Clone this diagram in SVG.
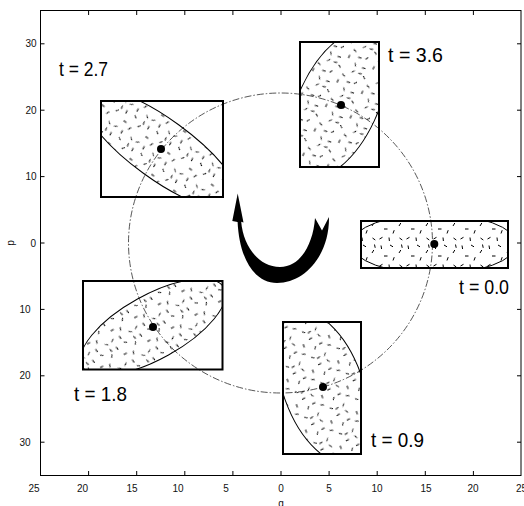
<svg xmlns="http://www.w3.org/2000/svg" width="524" height="506" viewBox="0 0 524 506">
<style>
  .frame{fill:none;stroke:#000;stroke-width:1}
  .tick{stroke:#000;stroke-width:1}
  .tl{font-family:"Liberation Sans",Arial,sans-serif;font-size:10px;fill:#111}
  .lab{font-family:"Liberation Sans",Arial,sans-serif;font-size:21px;fill:#000}
  .box{fill:none;stroke:#000;stroke-width:2}
  .ell{fill:url(#tex);stroke:#000;stroke-width:1}
  .dot{fill:#000}
  .traj{fill:none;stroke:#444;stroke-width:0.9;stroke-dasharray:7 2 1.5 2}
</style>
<defs>
  <pattern id="tex" width="27" height="27" patternUnits="userSpaceOnUse">
    <g stroke="#000" stroke-width="1">
      <line x1="3" y1="2.5" x2="3.6" y2="6"/>
      <line x1="12" y1="2" x2="15" y2="3.8"/>
      <line x1="21" y1="10" x2="22.8" y2="7"/>
      <line x1="6" y1="13" x2="9.5" y2="13"/>
      <line x1="15" y1="17.5" x2="16.2" y2="14.2"/>
      <line x1="1.5" y1="23" x2="4.5" y2="21.3"/>
      <line x1="11" y1="21.5" x2="11.4" y2="25"/>
      <line x1="21.5" y1="22" x2="24.3" y2="24"/>
      <line x1="23.5" y1="1.5" x2="24.2" y2="4.8"/>
    </g>
  </pattern>
  <clipPath id="c0"><rect x="361" y="221" width="147" height="47"/></clipPath>
  <clipPath id="c09"><rect x="283" y="322" width="78" height="132"/></clipPath>
  <clipPath id="c18"><rect x="83" y="281" width="139.5" height="88.5"/></clipPath>
  <clipPath id="c27"><rect x="101" y="101" width="122" height="96"/></clipPath>
  <clipPath id="c36"><rect x="300" y="42" width="79" height="125"/></clipPath>
</defs>

<g id="axes">
  <rect class="frame" x="40.5" y="10.5" width="480.5" height="465"/>
  <g class="tick">
    <path d="M88.6 475v-4M136.7 475v-4M184.8 475v-4M232.9 475v-4M281 475v-4M329.1 475v-4M377.2 475v-4M425.3 475v-4M473.4 475v-4"/>
    <path d="M88.6 11v4M136.7 11v4M184.8 11v4M232.9 11v4M281 11v4M329.1 11v4M377.2 11v4M425.3 11v4M473.4 11v4"/>
    <path d="M40.5 43.8h4M40.5 110.2h4M40.5 176.6h4M40.5 243h4M40.5 309.4h4M40.5 375.8h4M40.5 442.2h4"/>
    <path d="M521 43.8h-4M521 110.2h-4M521 176.6h-4M521 243h-4M521 309.4h-4M521 375.8h-4M521 442.2h-4"/>
  </g>
  <g class="tl" text-anchor="end">
    <text x="36.5" y="47.3">30</text>
    <text x="36.5" y="113.7">20</text>
    <text x="36.5" y="180.1">10</text>
    <text x="36" y="246.5">0</text>
    <text x="30.5" y="312.9">10</text>
    <text x="30.5" y="379.3">20</text>
    <text x="30.5" y="445.7">30</text>
  </g>
  <g class="tl" text-anchor="middle">
    <text x="34" y="492">25</text>
    <text x="82.5" y="492">20</text>
    <text x="132" y="492">15</text>
    <text x="178" y="492">10</text>
    <text x="226" y="492">5</text>
    <text x="281" y="492">0</text>
    <text x="329" y="492">5</text>
    <text x="377" y="492">10</text>
    <text x="426" y="492">15</text>
    <text x="473" y="492">20</text>
    <text x="521.5" y="492">25</text>
    <text x="281" y="506.5">q</text>
    <text x="0" y="0" transform="translate(13.5 243) rotate(-90)">p</text>
  </g>
</g>

<g id="connectors">
  <ellipse class="traj" cx="280.5" cy="243" rx="152" ry="150"/>
  <path id="rotation-arrow" fill="#000" d="M237.7 193.5 L243.5 222.5 L241.2 221.8 C243 245 258 267 280 267 C300 267 313 245 315 218 L322 230.5 L329 217 C329.5 255 305 283 277 283 C255 283 239.5 260 237.6 222 L232.3 221 Z"/>
</g>

<g id="t00">
  <g clip-path="url(#c0)"><ellipse class="ell" cx="434" cy="244" rx="82.5" ry="30"/></g>
  <rect class="box" x="361" y="221" width="147" height="47"/>
  <circle class="dot" cx="434.3" cy="244" r="4"/>
  <text class="lab" x="459" y="294" textLength="50" lengthAdjust="spacingAndGlyphs">t = 0.0</text>
</g>

<g id="t09">
  <g clip-path="url(#c09)"><ellipse class="ell" cx="323" cy="387" rx="79" ry="40" transform="rotate(70 323 387)"/></g>
  <rect class="box" x="283" y="322" width="78" height="132"/>
  <circle class="dot" cx="323" cy="387" r="4"/>
  <text class="lab" x="371" y="447" textLength="53" lengthAdjust="spacingAndGlyphs">t = 0.9</text>
</g>

<g id="t18">
  <g clip-path="url(#c18)"><ellipse class="ell" cx="153" cy="327" rx="81" ry="32" transform="rotate(-29 153 327)"/></g>
  <rect class="box" x="83" y="281" width="139.5" height="88.5"/>
  <circle class="dot" cx="153" cy="327" r="4"/>
  <text class="lab" x="74" y="401" textLength="53" lengthAdjust="spacingAndGlyphs">t = 1.8</text>
</g>

<g id="t27">
  <g clip-path="url(#c27)"><ellipse class="ell" cx="161" cy="149" rx="95" ry="30" transform="rotate(36 161 149)"/></g>
  <rect class="box" x="101" y="101" width="122" height="96"/>
  <circle class="dot" cx="161" cy="149" r="4"/>
  <text class="lab" x="59" y="76" textLength="49" lengthAdjust="spacingAndGlyphs">t = 2.7</text>
</g>

<g id="t36">
  <g clip-path="url(#c36)"><ellipse class="ell" cx="338" cy="104" rx="80" ry="40" transform="rotate(-65 338 104)"/></g>
  <rect class="box" x="300" y="42" width="79" height="125"/>
  <circle class="dot" cx="341" cy="105" r="4"/>
  <text class="lab" x="388" y="62" textLength="55" lengthAdjust="spacingAndGlyphs">t = 3.6</text>
</g>
</svg>
